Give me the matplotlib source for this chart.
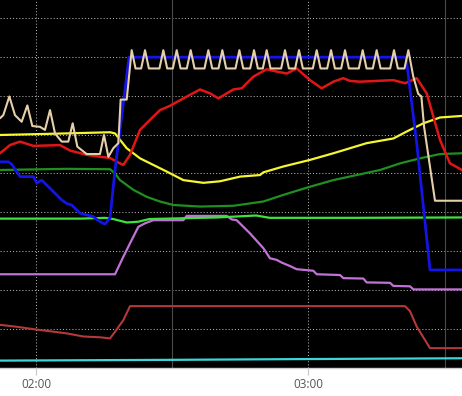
import matplotlib
matplotlib.use("Agg")
import matplotlib.pyplot as plt
import numpy as np

# time in minutes since 00:00, values in chart units (grid every 10)
tick_pos = [120, 180]
tick_labels = ["02:00", "03:00"]
minor_pos = [150, 210]

cyan_t = [112.07, 150, 180, 213.85]
cyan_v = [1.9, 2.1, 2.3, 2.5]

brown_t = [112.07, 115.74, 120.0, 126.76, 130.43, 134.1, 136.3, 137.4, 139.24, 140.71,
           201.3, 202.4, 203.9, 206.8, 213.85]
brown_v = [11.1, 10.6, 9.9, 8.9, 8.1, 7.9, 7.6, 9.3, 12.3, 15.9,
           15.9, 14.6, 10.6, 5.1, 5.1]

purple_t = [112.07, 137.41, 139.24, 141.08, 142.55, 144.02, 145.85, 152.46, 153.2, 162.01,
            163.11, 164.21, 167.15, 170.09, 171.55, 173.02, 174.13, 175.96, 177.43, 181.10,
            181.84, 186.98, 187.71, 192.12, 192.85, 197.99, 198.73, 202.40, 203.14, 213.85]
purple_v = [24.1, 24.1, 28.6, 32.9, 36.3, 37.2, 38.0, 38.0, 39.1, 39.1,
            38.2, 38.0, 34.6, 30.8, 28.2, 27.8, 27.1, 26.2, 25.4, 25.0,
            24.1, 23.9, 23.1, 23.0, 22.0, 21.9, 21.1, 21.0, 20.2, 20.2]

lime_t = [112.07, 130, 135.2, 137.0, 140.0, 142.5, 145, 160, 168.5, 171.5, 190, 213.85]
lime_v = [38.4, 38.4, 38.6, 38.3, 37.4, 37.6, 38.3, 38.7, 39.2, 38.6, 38.6, 38.7]

dkgreen_t = [112.07, 126.76, 136.30, 137.41, 138.51, 141.45, 144.39, 147.32, 150.26, 156.13,
             163.48, 170.09, 174.49, 180.37, 185.51, 195.79, 200.20, 204.60, 209.01, 213.85]
dkgreen_v = [50.9, 51.2, 51.1, 50.0, 48.3, 45.8, 44.0, 42.8, 41.9, 41.5,
             41.7, 42.8, 44.5, 46.6, 48.3, 50.9, 52.6, 53.9, 55.0, 55.2]

yellow_t = [112.07, 123.09, 136.30, 137.41, 139.98, 142.91, 145.85, 148.79, 152.46, 156.87,
            160.54, 164.95, 169.35, 170.09, 174.49, 180.37, 185.51, 192.85, 198.73, 201.67,
            205.34, 209.01, 213.85]
yellow_v = [59.9, 60.2, 60.6, 60.3, 56.5, 53.9, 52.2, 50.5, 48.3, 47.6,
            48.0, 49.2, 49.6, 50.3, 51.8, 53.5, 55.2, 57.8, 59.0, 60.8,
            62.9, 64.4, 64.8]

red_t = [112.07, 114.27, 116.48, 119.41, 125.29, 127.49, 131.16, 134.10, 136.30, 138.51,
         139.24, 140.71, 142.91, 145.12, 147.32, 149.52, 152.46, 156.13, 158.34, 160.17,
         163.48, 165.31, 167.88, 170.82, 173.02, 175.23, 177.43, 180.37, 182.94, 185.51,
         187.71, 189.18, 191.38, 195.05, 198.73, 201.30, 203.87, 206.07, 207.54, 209.01,
         211.21, 213.85]
red_v = [55.2, 57.3, 58.2, 57.1, 57.3, 55.9, 54.8, 54.3, 54.0, 52.6,
         52.2, 54.8, 61.2, 63.8, 66.3, 67.4, 69.3, 71.6, 70.6, 69.3,
         71.6, 71.9, 74.9, 76.8, 76.2, 75.7, 77.0, 74.0, 71.9, 73.6,
         74.5, 73.8, 73.6, 73.8, 74.0, 73.2, 74.5, 70.6, 64.6, 58.6,
         52.6, 50.9]

blue_t = [112.07, 113.91, 114.64, 116.48, 119.41, 120.15, 121.25, 123.09, 125.66, 126.76,
          127.86, 129.70, 132.63, 134.10, 135.20, 136.30, 137.41, 139.61, 140.49, 201.52,
          203.87, 206.81, 213.85]
blue_v = [53.0, 53.0, 52.4, 49.2, 49.2, 47.5, 48.3, 46.2, 43.2, 42.3,
          41.9, 39.8, 38.9, 37.6, 37.0, 38.5, 50.9, 71.5, 79.9, 79.9,
          57.8, 25.2, 25.2]

tan_t = [112.07, 112.80, 114.13, 115.37, 116.84, 118.09, 119.19, 120.88, 121.98, 123.09,
         124.19, 125.66, 127.12, 128.08, 129.11, 131.16, 134.10, 134.98, 135.94, 137.04,
         138.14, 138.65, 139.98,
         141.08, 141.93,
         143.17, 144.02, 144.87,
         147.20, 148.05, 148.90,
         150.15, 151.00, 151.85,
         153.23, 154.08, 154.93,
         157.12, 157.97, 158.82,
         160.20, 161.05, 161.90,
         163.95, 164.80, 165.65,
         167.18, 168.03, 168.88,
         169.97, 170.82, 171.67,
         174.01, 174.86, 175.71,
         177.09, 177.94, 178.79,
         180.99, 181.84, 182.69,
         184.15, 185.00, 185.85,
         187.23, 188.08, 188.93,
         191.12, 191.97, 192.82,
         194.20, 195.05, 195.90,
         198.02, 198.87, 199.72,
         201.18, 202.03,
         203.10, 204.20, 204.90, 205.50, 207.90, 213.85]
tan_v = [64.2, 65.0, 69.8, 65.0, 63.3, 67.5, 62.2, 62.0, 61.2, 66.3,
         60.3, 58.2, 58.2, 62.9, 56.9, 55.0, 55.0, 59.9, 54.3, 56.5,
         57.8, 69.0, 69.0,
         81.7, 77.0,
         77.0, 81.7, 77.0,
         77.0, 81.7, 77.0,
         77.0, 81.7, 77.0,
         77.0, 81.7, 77.0,
         77.0, 81.7, 77.0,
         77.0, 81.7, 77.0,
         77.0, 81.7, 77.0,
         77.0, 81.7, 77.0,
         77.0, 81.7, 77.0,
         77.0, 81.7, 77.0,
         77.0, 81.7, 77.0,
         77.0, 81.7, 77.0,
         77.0, 81.7, 77.0,
         77.0, 81.7, 77.0,
         77.0, 81.7, 77.0,
         77.0, 81.7, 77.0,
         77.0, 81.7, 77.0,
         77.0, 81.7,
         75.0, 70.5, 69.8, 62.0, 43.0, 43.0]

fig = plt.figure(figsize=(4.62, 3.96), dpi=100, facecolor="white")
ax = fig.add_axes([0, 1 - 368 / 396, 1, 368 / 396])
ax.set_facecolor("black")
ax.set_xlim(112.07, 213.85)
ax.set_ylim(0, 94.6)

# grid
for y in range(10, 95, 10):
    ax.axhline(y, color="#b0b0b0", lw=0.75, ls=(0, (1, 2)), zorder=1)
for x in tick_pos:
    ax.axvline(x, color="#b0b0b0", lw=0.75, ls=(0, (1, 2)), zorder=1)
for x in minor_pos:
    ax.axvline(x, color="#4a4a4a", lw=0.8, zorder=1)

kw = dict(solid_joinstyle="round", solid_capstyle="round", zorder=3)
ax.plot(cyan_t, cyan_v, color="#3cd6d6", lw=1.6, **kw)
ax.plot(brown_t, brown_v, color="#b23a3a", lw=1.5, **kw)
ax.plot(purple_t, purple_v, color="#c272d6", lw=1.6, **kw)
ax.plot(lime_t, lime_v, color="#3de23d", lw=1.6, **kw)
ax.plot(dkgreen_t, dkgreen_v, color="#1f8f1f", lw=1.6, **kw)
ax.plot(yellow_t, yellow_v, color="#f5f532", lw=1.6, **kw)
ax.plot(red_t, red_v, color="#e01616", lw=1.8, **kw)
ax.plot(blue_t, blue_v, color="#1414e6", lw=2.0, **kw)
ax.plot(tan_t, tan_v, color="#e6d0aa", lw=1.5, **kw)

ax.set_xticks(tick_pos)
ax.set_xticklabels(tick_labels, fontsize=8.5, color="#555555", family="Open Sans")
ax.tick_params(axis="x", length=5, width=0.8, color="#c8c8c8", pad=2)
ax.set_yticks([])
for s in ["top", "left", "right"]:
    ax.spines[s].set_visible(False)
ax.spines["bottom"].set_color("#cfcfcf")
ax.spines["bottom"].set_linewidth(1.0)

fig.savefig("out.png", dpi=100, facecolor="white")
